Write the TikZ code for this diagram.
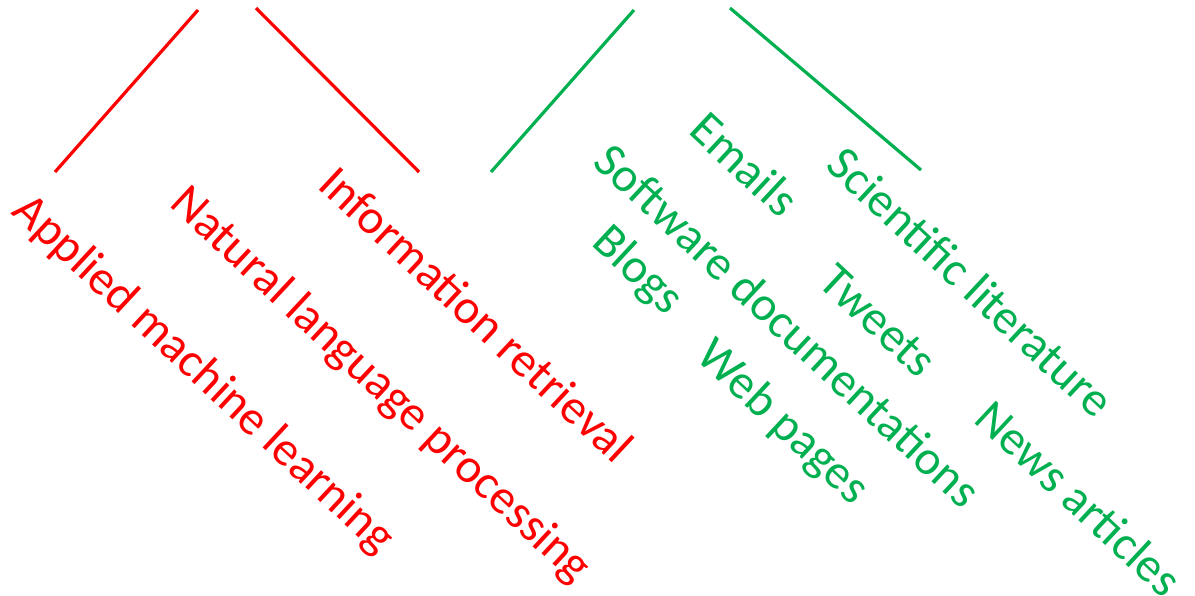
\documentclass[tikz,border=0pt]{standalone}
\usepackage{fontspec}
\setmainfont{Carlito}
\definecolor{myred}{RGB}{255,0,0}
\definecolor{mygreen}{RGB}{0,176,80}
\begin{document}
\begin{tikzpicture}[x=1pt,y=-1pt,
  lab/.style={rotate=-43,anchor=center,inner sep=0pt,font=\fontsize{48.5}{52}\selectfont},
  redlab/.style={lab,text=myred},
  greenlab/.style={lab,text=mygreen},
  redline/.style={draw=myred,line width=3.2pt},
  greenline/.style={draw=mygreen,line width=3.2pt}]
\useasboundingbox (0,0) rectangle (1195,595);
% lines
\coordinate (r1a) at (55,172); \coordinate (r1b) at (198,10);
\coordinate (r2a) at (256,8); \coordinate (r2b) at (419,172);
\coordinate (g1a) at (491,172); \coordinate (g1b) at (634,10);
\coordinate (g2a) at (730,8); \coordinate (g2b) at (921,170);
\draw[redline] (r1a) -- (r1b);
\draw[redline] (r2a) -- (r2b);
\draw[greenline] (g1a) -- (g1b);
\draw[greenline] (g2a) -- (g2b);
% labels
\node[redlab] (aml) at (203,375) {Applied machine learning};
\node[redlab] (nlp) at (380,386) {Natural language processing};
\node[redlab] (ir) at (477,314) {Information retrieval};
\node[greenlab] (em) at (745,164) {Emails};
\node[greenlab] (sl) at (971,282) {Scientific literature};
\node[greenlab] (sd) at (788,325) {Software documentations};
\node[greenlab] (bl) at (637,271) {Blogs};
\node[greenlab] (tw) at (878,321) {Tweets};
\node[greenlab] (wp) at (782,423) {Web pages};
\node[greenlab] (na) at (1079,498) {News articles};
\end{tikzpicture}
\end{document}
